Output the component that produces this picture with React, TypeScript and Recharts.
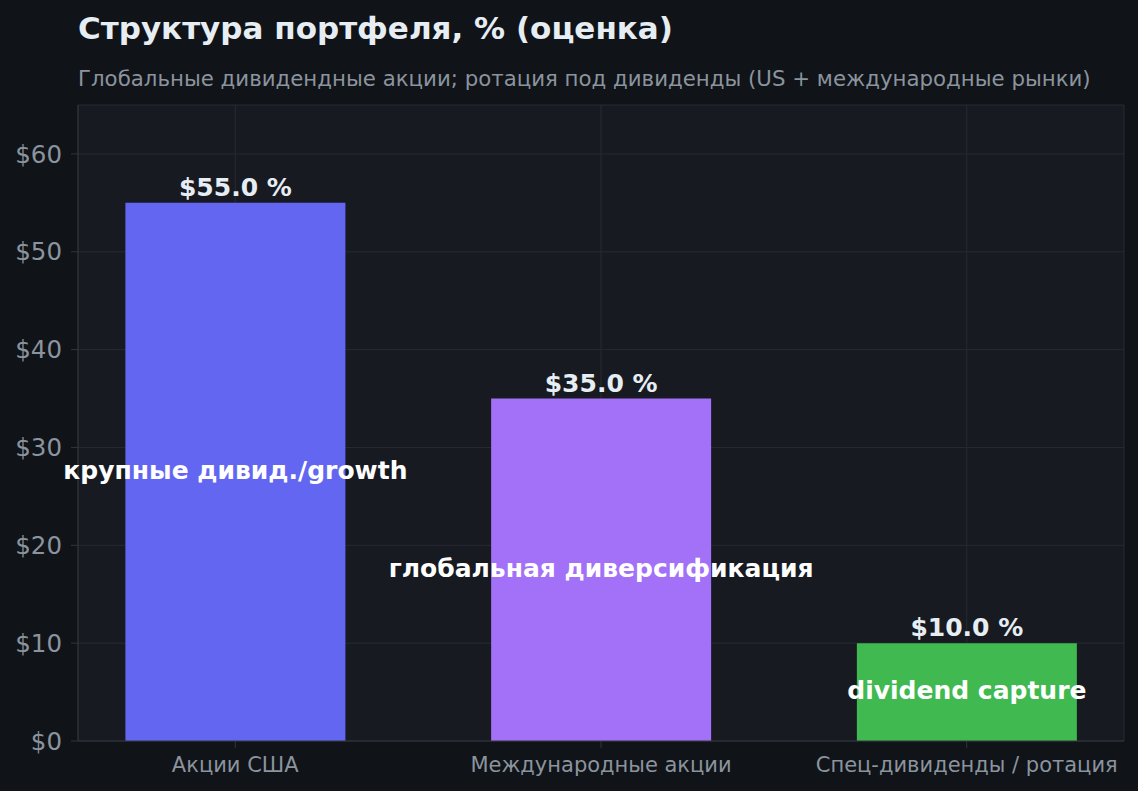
import { Bar, BarChart, CartesianGrid, Cell, LabelList, XAxis, YAxis } from "recharts";

const categories = ["Акции США", "Международные акции", "Спец-дивиденды / ротация"];
const shares = [55, 35, 10];
const notes = ["крупные дивид./growth", "глобальная диверсификация", "dividend capture"];
const barColors = ["#6366f1", "#a371f7", "#3fb950"];
const yTicks = [0, 10, 20, 30, 40, 50, 60];

const data = categories.map((name, i) => ({ idx: i, name, share: shares[i], note: notes[i] }));

const FONT = "'DejaVu Sans', sans-serif";

export default function App() {
  return (
    <div
      style={{
        position: "absolute",
        left: 0,
        top: 0,
        width: 1138,
        height: 791,
        background: "#101317",
        fontFamily: FONT,
      }}
    >
      <div
        style={{
          position: "absolute",
          left: 78,
          top: 10,
          fontSize: 31,
          fontWeight: "bold",
          color: "#e6edf3",
          whiteSpace: "nowrap",
        }}
      >
        Структура портфеля, % (оценка)
      </div>
      <div
        style={{
          position: "absolute",
          left: 78,
          top: 66,
          fontSize: 21.3,
          color: "#8b949e",
          whiteSpace: "nowrap",
        }}
      >
        Глобальные дивидендные акции; ротация под дивиденды (US + международные рынки)
      </div>
      <BarChart
        width={1138}
        height={791}
        data={data}
        margin={{ top: 105, right: 14, bottom: 0, left: 0 }}
        style={{ position: "absolute", left: 0, top: 0 }}
      >
        <CartesianGrid stroke="#262a33" fill="#171a21" />
        <XAxis
          dataKey="idx"
          type="number"
          domain={[-0.43, 2.43]}
          ticks={[0, 1, 2]}
          tickFormatter={(v) => categories[v] ?? ""}
          height={50}
          stroke="#30363d"
          tick={{ fill: "#8b949e", fontSize: 21, fontFamily: FONT }}
          tickSize={7}
          tickMargin={9}
        />
        <YAxis
          domain={[0, 65]}
          ticks={yTicks}
          tickFormatter={(v) => `$${v}`}
          width={78}
          stroke="#30363d"
          tick={{ fill: "#8b949e", fontSize: 24.5, fontFamily: FONT }}
          tickSize={7}
          tickMargin={9}
        />
        <Bar dataKey="share" barSize={220} isAnimationActive={false}>
          {data.map((d, i) => (
            <Cell key={d.name} fill={barColors[i]} />
          ))}
          <LabelList
            dataKey="share"
            position="top"
            offset={7}
            formatter={(v) => `$${Number(v).toFixed(1)} %`}
            fill="#e6edf3"
            fontSize={25}
            fontWeight="bold"
            fontFamily={FONT}
          />
          <LabelList
            dataKey="note"
            position="center"
            dy={-2}
            fill="#ffffff"
            fontSize={25}
            fontWeight="bold"
            fontFamily={FONT}
          />
        </Bar>
      </BarChart>
    </div>
  );
}
